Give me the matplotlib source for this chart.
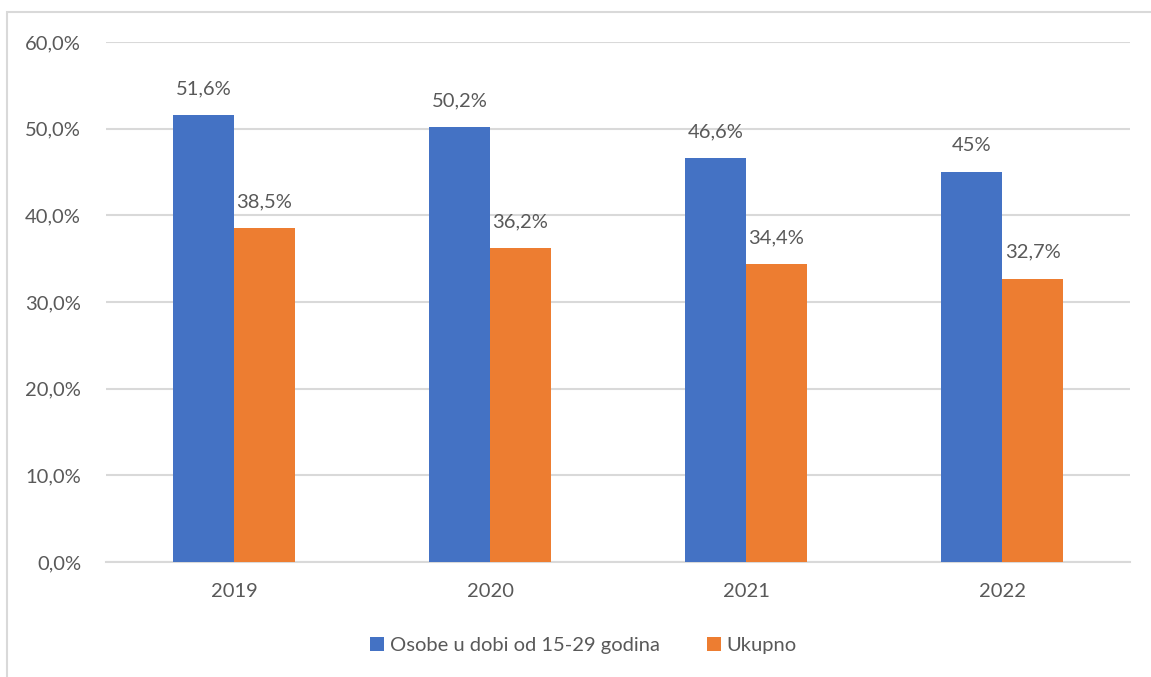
import matplotlib
matplotlib.use("Agg")
import matplotlib.pyplot as plt
from matplotlib.patches import Rectangle
import numpy as np

# Daten
godine = ["2019", "2020", "2021", "2022"]
mladi = [51.6, 50.2, 46.6, 45.0]
ukupno = [38.5, 36.2, 34.4, 32.7]
mladi_oznake = ["51,6%", "50,2%", "46,6%", "45%"]
ukupno_oznake = ["38,5%", "36,2%", "34,4%", "32,7%"]
y_ticks = [0, 10, 20, 30, 40, 50, 60]
y_oznake = ["0,0%", "10,0%", "20,0%", "30,0%", "40,0%", "50,0%", "60,0%"]

plava = "#4472C4"
narancasta = "#ED7D31"
siva_tekst = "#595959"
siva_linija = "#D9D9D9"
vel = 14.5

plt.rcParams["font.family"] = ["Lato", "DejaVu Sans"]

fig = plt.figure(figsize=(11.51, 6.77), dpi=100)
ax = fig.add_axes([0.0921, 0.1699, 0.8897, 0.768])

# Rahmen (nur links und oben sichtbar)
fig.patches.append(Rectangle((7 / 1151, -0.1), 1.2, 1 - 12 / 677 + 0.1,
                             transform=fig.transFigure, fill=False,
                             edgecolor=siva_linija, linewidth=1.5))

x = np.arange(len(godine))
sirina = 0.238
b1 = ax.bar(x - sirina / 2, mladi, sirina, color=plava, label="Osobe u dobi od 15-29 godina", zorder=3)
b2 = ax.bar(x + sirina / 2, ukupno, sirina, color=narancasta, label="Ukupno", zorder=3)

for rect, txt in zip(b1, mladi_oznake):
    ax.annotate(txt, (rect.get_x() + rect.get_width() / 2, rect.get_height()),
                xytext=(0, 19), textcoords="offset points", ha="center", va="center",
                fontsize=vel, color=siva_tekst)
for rect, txt in zip(b2, ukupno_oznake):
    ax.annotate(txt, (rect.get_x() + rect.get_width() / 2, rect.get_height()),
                xytext=(0, 19), textcoords="offset points", ha="center", va="center",
                fontsize=vel, color=siva_tekst)

ax.set_xlim(-0.5, len(godine) - 0.5)
ax.set_ylim(0, 60)
ax.set_yticks(y_ticks)
ax.set_yticklabels(y_oznake)
ax.set_xticks(x)
ax.set_xticklabels(godine)
ax.tick_params(axis="both", length=0, labelsize=vel, labelcolor=siva_tekst)
ax.tick_params(axis="y", pad=18)
ax.tick_params(axis="x", pad=15)

ax.yaxis.grid(True, color=siva_linija, linewidth=1.5, zorder=0)
for s in ["top", "right", "left"]:
    ax.spines[s].set_visible(False)
ax.spines["bottom"].set_color(siva_linija)
ax.spines["bottom"].set_linewidth(1.5)

fig.legend(loc="center", bbox_to_anchor=(0.507, 0.047), ncol=2, frameon=False,
           fontsize=vel, labelcolor=siva_tekst, handlelength=0.7, handleheight=0.7,
           handletextpad=0.3, columnspacing=2.3)

fig.savefig("out.png", dpi=100)
